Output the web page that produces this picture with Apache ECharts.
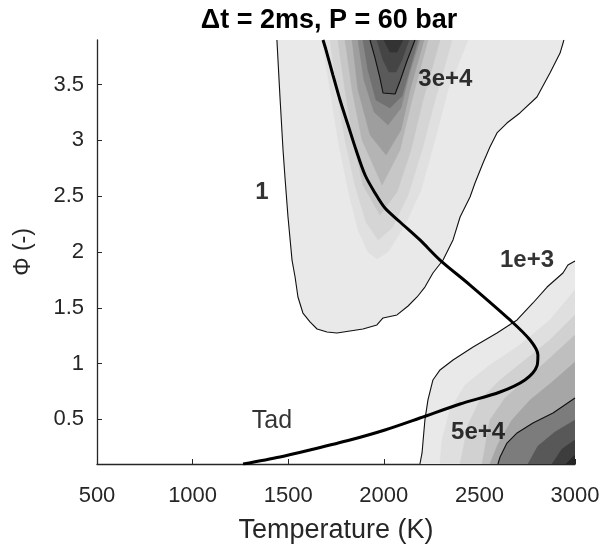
<!DOCTYPE html>
<html>
<head>
<meta charset="utf-8">
<script src="https://cdn.jsdelivr.net/npm/echarts@6/dist/echarts.min.js"></script>
<style>html,body{margin:0;padding:0;background:#fff}#c{width:604px;height:555px}</style>
</head>
<body>
<div id="c"></div>
<script>
// ---- axis ticks ----
const T_TICKS = [500, 1000, 1500, 2000, 2500, 3000];
const PHI_TICKS = [0.5, 1, 1.5, 2, 2.5, 3, 3.5];

// ---- adiabatic flame temperature curve (T [K], Phi) ----
const TAD = [[1264,0.1],[1457,0.163],[1614,0.226],[1823,0.315],[2006,0.405],[2189,0.512],[2399,0.638],[2608,0.745],[2738,0.853],[2801,0.978],[2806,1.077],[2765,1.211],[2660,1.391],[2451,1.704],[2294,1.928],[2189,2.108],[2085,2.269],[2006,2.394],[1954,2.529],[1902,2.690],[1855,2.914],[1813,3.138],[1771,3.362],[1734,3.586],[1698,3.810],[1682,3.9]];

// ---- contour lines ----
const C_1 = [[1441,3.9],[1457,3.389],[1473,2.914],[1483,2.672],[1499,2.314],[1520,1.928],[1536,1.776],[1551,1.597],[1577,1.453],[1614,1.373],[1651,1.310],[1703,1.283],[1755,1.274],[1823,1.292],[1891,1.310],[1964,1.346],[1996,1.409],[2069,1.436],[2127,1.516],[2174,1.597],[2215,1.686],[2257,1.812],[2310,1.928],[2362,2.108],[2399,2.314],[2451,2.493],[2477,2.618],[2519,2.798],[2555,2.941],[2592,3.067],[2644,3.156],[2712,3.246],[2801,3.389],[2869,3.604],[2922,3.783],[2942,3.9]];
const C_3E4 = [[1928,3.9],[1954,3.739],[1980,3.559],[1996,3.425],[2059,3.416],[2085,3.533],[2121,3.712],[2163,3.9]];
const C_1E3 = [[3000,1.919],[2963,1.884],[2937,1.812],[2854,1.686],[2780,1.543],[2697,1.391],[2592,1.274],[2467,1.149],[2362,1.032],[2294,0.943],[2257,0.853],[2231,0.674],[2215,0.495],[2200,0.199],[2189,0.1]];
const C_5E4 = [[3000,0.692],[2885,0.557],[2780,0.468],[2697,0.378],[2644,0.288],[2608,0.163],[2597,0.1]];

// ---- intermediate shading levels (upper region, open at the top edge) ----
const U1 = [[1677,3.9],[1719,3.452],[1760,3.004],[1813,2.556],[1865,2.197],[1917,2.0],[1964,1.937],[2022,2.0],[2111,2.242],[2195,2.556],[2268,3.004],[2336,3.452],[2440,3.9]];
const U2 = [[1719,3.9],[1755,3.452],[1797,3.004],[1849,2.60],[1907,2.269],[1970,2.108],[2043,2.215],[2127,2.511],[2200,2.914],[2268,3.362],[2357,3.9]];
const U3 = [[1760,3.9],[1797,3.452],[1839,3.004],[1891,2.60],[1980,2.332],[2069,2.538],[2142,2.914],[2205,3.362],[2294,3.9]];
const U4 = [[1797,3.9],[1834,3.452],[1886,3.004],[1991,2.60],[2085,2.914],[2147,3.362],[2231,3.9]];
const U5 = [[1834,3.9],[1865,3.452],[1928,3.049],[2012,2.869],[2090,3.093],[2137,3.452],[2210,3.9]];
const U6 = [[1865,3.9],[1896,3.542],[1949,3.255],[2022,3.138],[2090,3.291],[2132,3.586],[2189,3.9]];
const U7 = [[1891,3.9],[1917,3.631],[1959,3.362],[2032,3.291],[2095,3.398],[2142,3.676],[2179,3.9]];
const U9 = [[1964,3.9],[1996,3.721],[2027,3.613],[2064,3.613],[2095,3.721],[2132,3.9]];
const U10 = [[2001,3.9],[2032,3.792],[2069,3.792],[2100,3.9]];

// ---- intermediate shading levels (lower-right region) ----
const R1 = [[3000,1.659],[2869,1.391],[2712,1.167],[2555,0.987],[2425,0.808],[2346,0.584],[2304,0.315],[2294,0.1]];
const R2 = [[3000,1.435],[2869,1.211],[2738,1.032],[2608,0.853],[2503,0.674],[2440,0.450],[2399,0.1]];
const R3 = [[3000,1.256],[2869,1.050],[2754,0.871],[2634,0.692],[2555,0.494],[2514,0.1]];
const R4 = [[3000,1.014],[2880,0.835],[2765,0.674],[2670,0.494],[2597,0.279],[2555,0.1]];
const R6 = [[3000,0.494],[2895,0.387],[2806,0.261],[2754,0.1]];
const R7 = [[3000,0.315],[2932,0.234],[2880,0.1]];
const R8 = [[3000,0.181],[2953,0.1]];
const CORNER = [[3000,0.1]];

// ---- labels ----
const LABEL_TEXT = ['1', '3e+4', '1e+3', '5e+4', 'Tad'];
const LABEL_POS = [[1363,2.538],[2322,3.55],[2749,1.928],[2493,0.387],[1415,0.486]];

// ---------------------------------------------------------------
const FONT = 'Liberation Sans, Arial, sans-serif';
const AX = '#262626';

const fills = [
  [C_1, '#e9e9e9'],
  [U1, '#e0e0e0'], [U2, '#d5d5d5'], [U3, '#c7c7c7'], [U4, '#b4b4b4'],
  [U5, '#9e9e9e'], [U6, '#888888'], [U7, '#717171'], [C_3E4, '#5a5a5a'],
  [U9, '#454545'], [U10, '#333333'],
  [C_1E3.concat(CORNER), '#e9e9e9'],
  [R1.concat(CORNER), '#dfdfdf'], [R2.concat(CORNER), '#d1d1d1'],
  [R3.concat(CORNER), '#bfbfbf'], [R4.concat(CORNER), '#a6a6a6'],
  [C_5E4.concat(CORNER), '#7c7c7c'], [R6.concat(CORNER), '#585858'],
  [R7.concat(CORNER), '#3d3d3d'], [R8.concat(CORNER), '#262626']
];

const series = [];
fills.forEach(function (f) {
  const pts = f[0], color = f[1];
  series.push({
    type: 'custom', silent: true, z: 1, clip: true,
    data: pts,
    renderItem: function (params, api) {
      if (params.dataIndex !== 0) return null;
      const poly = pts.map(function (p) { return api.coord(p); });
      return { type: 'polygon', shape: { points: poly }, style: { fill: color, stroke: color, lineWidth: 0.5 } };
    }
  });
});

[C_1, C_3E4, C_1E3, C_5E4].forEach(function (c) {
  series.push({ type: 'line', data: c, z: 3, silent: true, showSymbol: false, symbol: 'none',
    lineStyle: { color: '#111', width: 1.1 } });
});
series.push({ type: 'line', data: TAD, z: 4, silent: true, showSymbol: false, symbol: 'none', smooth: 0.3,
  lineStyle: { color: '#000', width: 3 } });

series.push({
  type: 'scatter', z: 5, silent: true, symbolSize: 0,
  data: LABEL_POS.map(function (p, i) {
    const bold = LABEL_TEXT[i] !== 'Tad';
    return { value: p, label: { show: true, position: 'inside', formatter: LABEL_TEXT[i],
      fontFamily: FONT, fontSize: bold ? 24 : 25, color: '#000', fontWeight: bold ? 'bold' : 'normal' } };
  })
});

const chart = echarts.init(document.getElementById('c'), null, { renderer: 'canvas' });
chart.setOption({
  animation: false,
  backgroundColor: '#fff',
  title: { text: 'Δt = 2ms, P = 60 bar', left: 324, top: 2, textAlign: 'center',
    textStyle: { fontFamily: FONT, fontSize: 27, fontWeight: 'bold', color: '#000' } },
  grid: { left: 97, right: 29, top: 40, bottom: 91, containLabel: false },
  xAxis: {
    type: 'value', min: T_TICKS[0], max: T_TICKS[T_TICKS.length - 1], interval: 500,
    name: 'Temperature (K)', nameLocation: 'middle', nameGap: 53,
    nameTextStyle: { fontFamily: FONT, fontSize: 27, color: AX },
    axisLine: { show: true, lineStyle: { color: AX, width: 1.3 } },
    axisTick: { show: true, inside: true, length: 5, lineStyle: { color: AX } },
    axisLabel: { fontFamily: FONT, fontSize: 22, color: AX, margin: 21,
      formatter: function (v) { return String(v); } },
    splitLine: { show: false }
  },
  yAxis: {
    type: 'value', min: 0.1, max: 3.9,
    name: 'Φ (-)', nameLocation: 'middle', nameGap: 62, nameRotate: 90,
    nameTextStyle: { fontFamily: FONT, fontSize: 23, color: AX },
    axisLine: { show: true, lineStyle: { color: AX, width: 1.3 } },
    axisTick: { show: true, inside: true, length: 5, lineStyle: { color: AX }, customValues: PHI_TICKS },
    axisLabel: { fontFamily: FONT, fontSize: 22, color: AX, margin: 13, customValues: PHI_TICKS,
      formatter: function (v) { return String(v); } },
    splitLine: { show: false }
  },
  series: series
});
</script>
</body>
</html>
